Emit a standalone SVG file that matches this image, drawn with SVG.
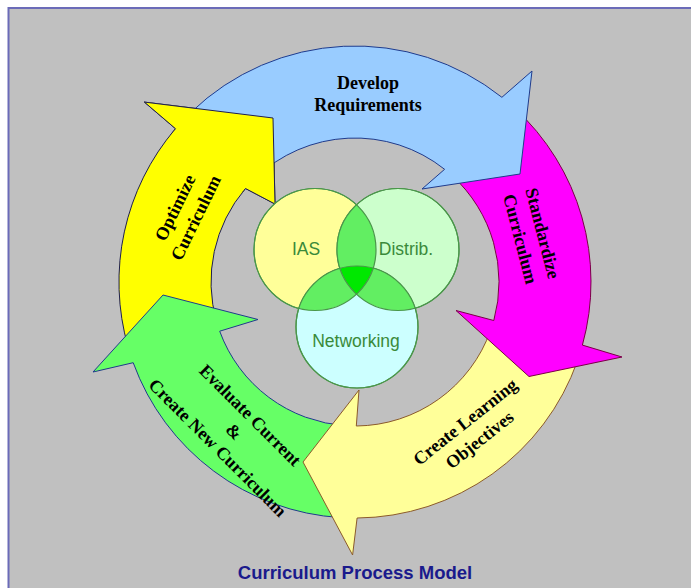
<svg xmlns="http://www.w3.org/2000/svg" xmlns:xlink="http://www.w3.org/1999/xlink" width="691" height="588" viewBox="0 0 691 588">
  <defs>
    <style>
      .panel { fill: #c0c0c0; stroke: #6b6bb8; stroke-width: 2; }
      .arrow { stroke-width: 1; stroke-linejoin: miter; }
      .blue { fill: #99ccff; stroke: #1f3b8c; }
      .magenta { fill: #ff00ff; stroke: #7a0045; }
      .pale { fill: #ffff99; stroke: #8b5a2b; }
      .green { fill: #66ff66; stroke: #1f3b8c; }
      .yellow { fill: #ffff00; stroke: #1f1f4f; }
      .lbl { font-family: "Liberation Serif", "Times New Roman", serif; font-weight: bold; font-size: 18px; fill: #000; text-anchor: middle; }
      .venn { stroke: #4a964a; stroke-width: 1.2; }
      .venn-edge { fill: none; stroke: #4a964a; stroke-width: 1.2; }
      .venn-lbl { font-family: "Liberation Sans", Arial, sans-serif; font-size: 17.5px; fill: #3a8a3a; text-anchor: middle; }
      .caption { font-family: "Liberation Sans", Arial, sans-serif; font-weight: bold; font-size: 18.5px; fill: #1a1a8c; text-anchor: middle; }
    </style>
    <clipPath id="clip-ias"><circle cx="315" cy="249.5" r="61"/></clipPath>
    <clipPath id="clip-distrib"><circle cx="398" cy="249.5" r="61"/></clipPath>
    <clipPath id="clip-net"><circle cx="357" cy="327" r="61"/></clipPath>
    <!-- head of the yellow arrow, repainted above the tail of the blue one -->
    <path id="head-optimize" class="arrow yellow" d="M 170.3 135.1 A 236 236 0 0 1 175.5 128.7 L 144.4 102.1 L 273 118 L 275 204 L 245.5 188.5 A 144 144 0 0 0 242.3 192.4"/>
  </defs>

  <!-- panel -->
  <rect class="panel" x="8.5" y="8" width="700" height="600"/>

  <!-- cycle arrows: each head overlaps the tail of the next arrow -->
  <g id="optimize-curriculum">
    <path class="arrow yellow" d="M 128.1 347.0 A 236 236 0 0 1 175.5 128.7 L 144.4 102.1 L 273 118 L 275 204 L 245.5 188.5 A 144 144 0 0 0 216.6 321.7 Z"/>
    <g transform="translate(185 212.5) rotate(-64)">
      <text class="lbl" x="0" y="-5">Optimize</text>
      <text class="lbl" x="0" y="18">Curriculum</text>
    </g>
  </g>

  <g id="evaluate-create">
    <path class="arrow green" d="M 340.6 517.6 A 236 236 0 0 1 133.2 362.7 L 93 372 L 163 295 L 258 319.5 L 219.7 331.2 A 144 144 0 0 0 346.2 425.7 Z"/>
    <g transform="translate(234 431.5) rotate(45)">
      <text class="lbl" x="0" y="-17">Evaluate Current</text>
      <text class="lbl" x="0" y="6">&amp;</text>
      <text class="lbl" x="0" y="29">Create New Curriculum</text>
    </g>
  </g>

  <g id="create-learning-objectives">
    <path class="arrow pale" d="M 577.5 360.8 A 236 236 0 0 1 357.1 518.0 L 352.6 555 L 303 462 L 359 390 L 356.3 426.0 A 144 144 0 0 0 490.7 330.1 Z"/>
    <g transform="translate(472 430.5) rotate(-38.5)">
      <text class="lbl" x="0" y="-5">Create Learning</text>
      <text class="lbl" x="0" y="18">Objectives</text>
    </g>
  </g>

  <g id="standardize-curriculum">
    <path class="arrow magenta" d="M 514.4 108.0 A 236 236 0 0 1 582.4 345.1 L 622 357 L 529 376.5 L 456 310.5 L 493.8 320.5 A 144 144 0 0 0 452.3 175.8 Z"/>
    <g transform="translate(532 236) rotate(75.5)">
      <text class="lbl" x="0" y="-5">Standardize</text>
      <text class="lbl" x="0" y="18">Curriculum</text>
    </g>
  </g>

  <g id="develop-requirements">
    <path class="arrow blue" d="M 191.1 112.2 A 236 236 0 0 1 501.9 97.3 L 532 71 L 520 174 L 422 189 L 444.6 169.3 A 144 144 0 0 0 255.0 178.4 Z"/>
    <text class="lbl" x="368" y="89">Develop</text>
    <text class="lbl" x="368" y="111">Requirements</text>
  </g>

  <use xlink:href="#head-optimize" href="#head-optimize"/>

  <!-- three-way overlap in the middle -->
  <g id="venn">
    <circle class="venn" cx="315" cy="249.5" r="61" fill="#ffff99"/>
    <circle class="venn" cx="398" cy="249.5" r="61" fill="#ccffcc"/>
    <circle class="venn" cx="357" cy="327" r="61" fill="#ccffff"/>
    <circle cx="315" cy="249.5" r="61" fill="#62ee62" clip-path="url(#clip-distrib)"/>
    <circle cx="315" cy="249.5" r="61" fill="#62ee62" clip-path="url(#clip-net)"/>
    <circle cx="398" cy="249.5" r="61" fill="#62ee62" clip-path="url(#clip-net)"/>
    <g clip-path="url(#clip-distrib)">
      <circle cx="315" cy="249.5" r="61" fill="#00e800" clip-path="url(#clip-net)"/>
    </g>
    <circle class="venn-edge" cx="315" cy="249.5" r="61"/>
    <circle class="venn-edge" cx="398" cy="249.5" r="61"/>
    <circle class="venn-edge" cx="357" cy="327" r="61"/>
  </g>

  <g id="ias">
    <text class="venn-lbl" x="306" y="255">IAS</text>
  </g>
  <g id="distrib">
    <text class="venn-lbl" x="406" y="255">Distrib.</text>
  </g>
  <g id="networking">
    <text class="venn-lbl" x="356" y="347">Networking</text>
  </g>

  <text class="caption" x="355" y="579">Curriculum Process Model</text>
</svg>
